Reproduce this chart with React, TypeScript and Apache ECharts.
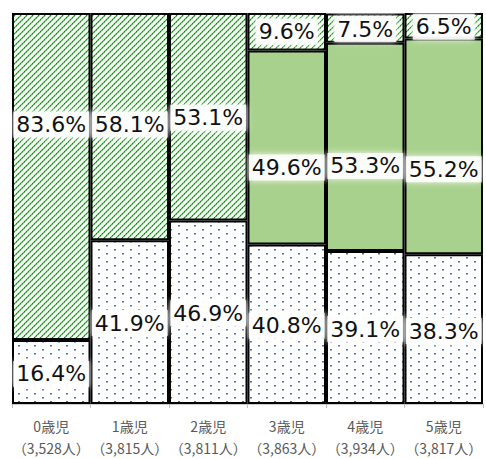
import React, { useEffect, useRef } from 'react';
import * as echarts from 'echarts';

const ages = ['0歳児', '1歳児', '2歳児', '3歳児', '4歳児', '5歳児'];
const counts = ['3,528', '3,815', '3,811', '3,863', '3,934', '3,817'];
const bottomValues = [16.4, 41.9, 46.9, 40.8, 39.1, 38.3];
const middleValues: (number | null)[] = [null, null, null, 49.6, 53.3, 55.2];
const topValues = [83.6, 58.1, 53.1, 9.6, 7.5, 6.5];

// label vertical nudges (layout only)
const bottomLabelDy = [2, 1, 1, 1.5, 1.5, 2];
const middleLabelDy = [0, 0, 0, 20, 19, 23];
const topLabelDy = [-52, -2, 1, 0, 1, 1];

function svgUrl(w: number, h: number, body: string): string {
  const s =
    `<svg xmlns="http://www.w3.org/2000/svg" width="${w}" height="${h}" shape-rendering="crispEdges">` +
    `<rect width="${w}" height="${h}" fill="#ffffff"/>` +
    body +
    `</svg>`;
  return 'data:image/svg+xml;charset=utf-8,' + encodeURIComponent(s);
}

function makeHatch(): string {
  const n = 12;
  let body = '';
  const px = (x: number, y: number, c: string) =>
    `<rect x="${x}" y="${y}" width="1" height="1" fill="${c}"/>`;
  for (let x = 0; x < n; x++) {
    for (let y = 0; y < n; y++) {
      const k = (x + y) % 6;
      if (k === 5) body += px(x, y, x % 2 === 0 ? '#008a00' : '#3fae3f');
      else if (k === 0) body += px(x, y, x % 2 === 0 ? '#6cc46c' : '#a6d9a6');
      else if (k === 4) body += px(x, y, '#d2edd2');
    }
  }
  return svgUrl(n, n, body);
}

function makeDots(): string {
  const dot = (x: number, y: number) =>
    `<rect x="${x}" y="${y}" width="2" height="1" fill="#3f70cc"/>` +
    `<rect x="${x}" y="${y + 1}" width="2" height="1" fill="#98b4ea"/>`;
  return svgUrl(16, 8, dot(2, 1) + dot(10, 5));
}

export default function App() {
  const ref = useRef<HTMLDivElement>(null);
  useEffect(() => {
    if (!ref.current) return;
    const chart = echarts.init(ref.current, undefined, { renderer: 'svg' });
    const hatch = { image: makeHatch(), repeat: 'repeat', imageWidth: 12, imageHeight: 12 };
    const dots = { image: makeDots(), repeat: 'repeat', imageWidth: 16, imageHeight: 8 };
    const labelBase = {
      show: true,
      position: 'inside',
      formatter: (p: any) => Number(p.value).toFixed(1) + '%',
      fontFamily: 'DejaVu Sans',
      fontSize: 22,
      color: '#111111',
      backgroundColor: 'rgba(255,255,255,0.85)',
      padding: [3, 3, 1, 3],
      shadowBlur: 6,
      shadowColor: '#ffffff',
    };
    const mk = (vals: (number | null)[], dys: number[]) =>
      vals.map((v, i) =>
        v == null ? '-' : { value: v, label: { offset: [0, dys[i]] } }
      );
    const itemBorder = { borderColor: '#000000', borderWidth: 2 };
    const categories = ages.map((a, i) => a + '\n（' + counts[i] + '人）');
    chart.setOption({
      animation: false,
      grid: { left: 12, right: 3, top: 13, bottom: 54 },
      xAxis: {
        type: 'category',
        data: categories,
        axisLine: { lineStyle: { color: '#bfbfbf', width: 1.5 } },
        axisTick: { show: true, length: 4, lineStyle: { color: '#bfbfbf' } },
        axisLabel: {
          interval: 0,
          color: '#595959',
          fontSize: 14,
          fontFamily: 'Noto Sans CJK JP',
          lineHeight: 22,
          margin: 11,
        },
        z: 1,
      },
      yAxis: { type: 'value', min: 0, max: 100, show: false, splitLine: { show: false } },
      series: [
        { type: 'bar', stack: 's', barCategoryGap: '0%', data: mk(bottomValues, bottomLabelDy), itemStyle: { color: dots, ...itemBorder }, label: labelBase, z: 3 },
        { type: 'bar', stack: 's', barCategoryGap: '0%', data: mk(middleValues, middleLabelDy), itemStyle: { color: '#a9d18e', ...itemBorder }, label: labelBase, z: 3 },
        { type: 'bar', stack: 's', barCategoryGap: '0%', data: mk(topValues, topLabelDy), itemStyle: { color: hatch, ...itemBorder }, label: labelBase, z: 3 },
      ],
    });
    return () => chart.dispose();
  }, []);
  return (
    <div
      ref={ref}
      style={{ position: 'fixed', left: 0, top: 0, width: 486, height: 459, background: '#ffffff' }}
    />
  );
}
